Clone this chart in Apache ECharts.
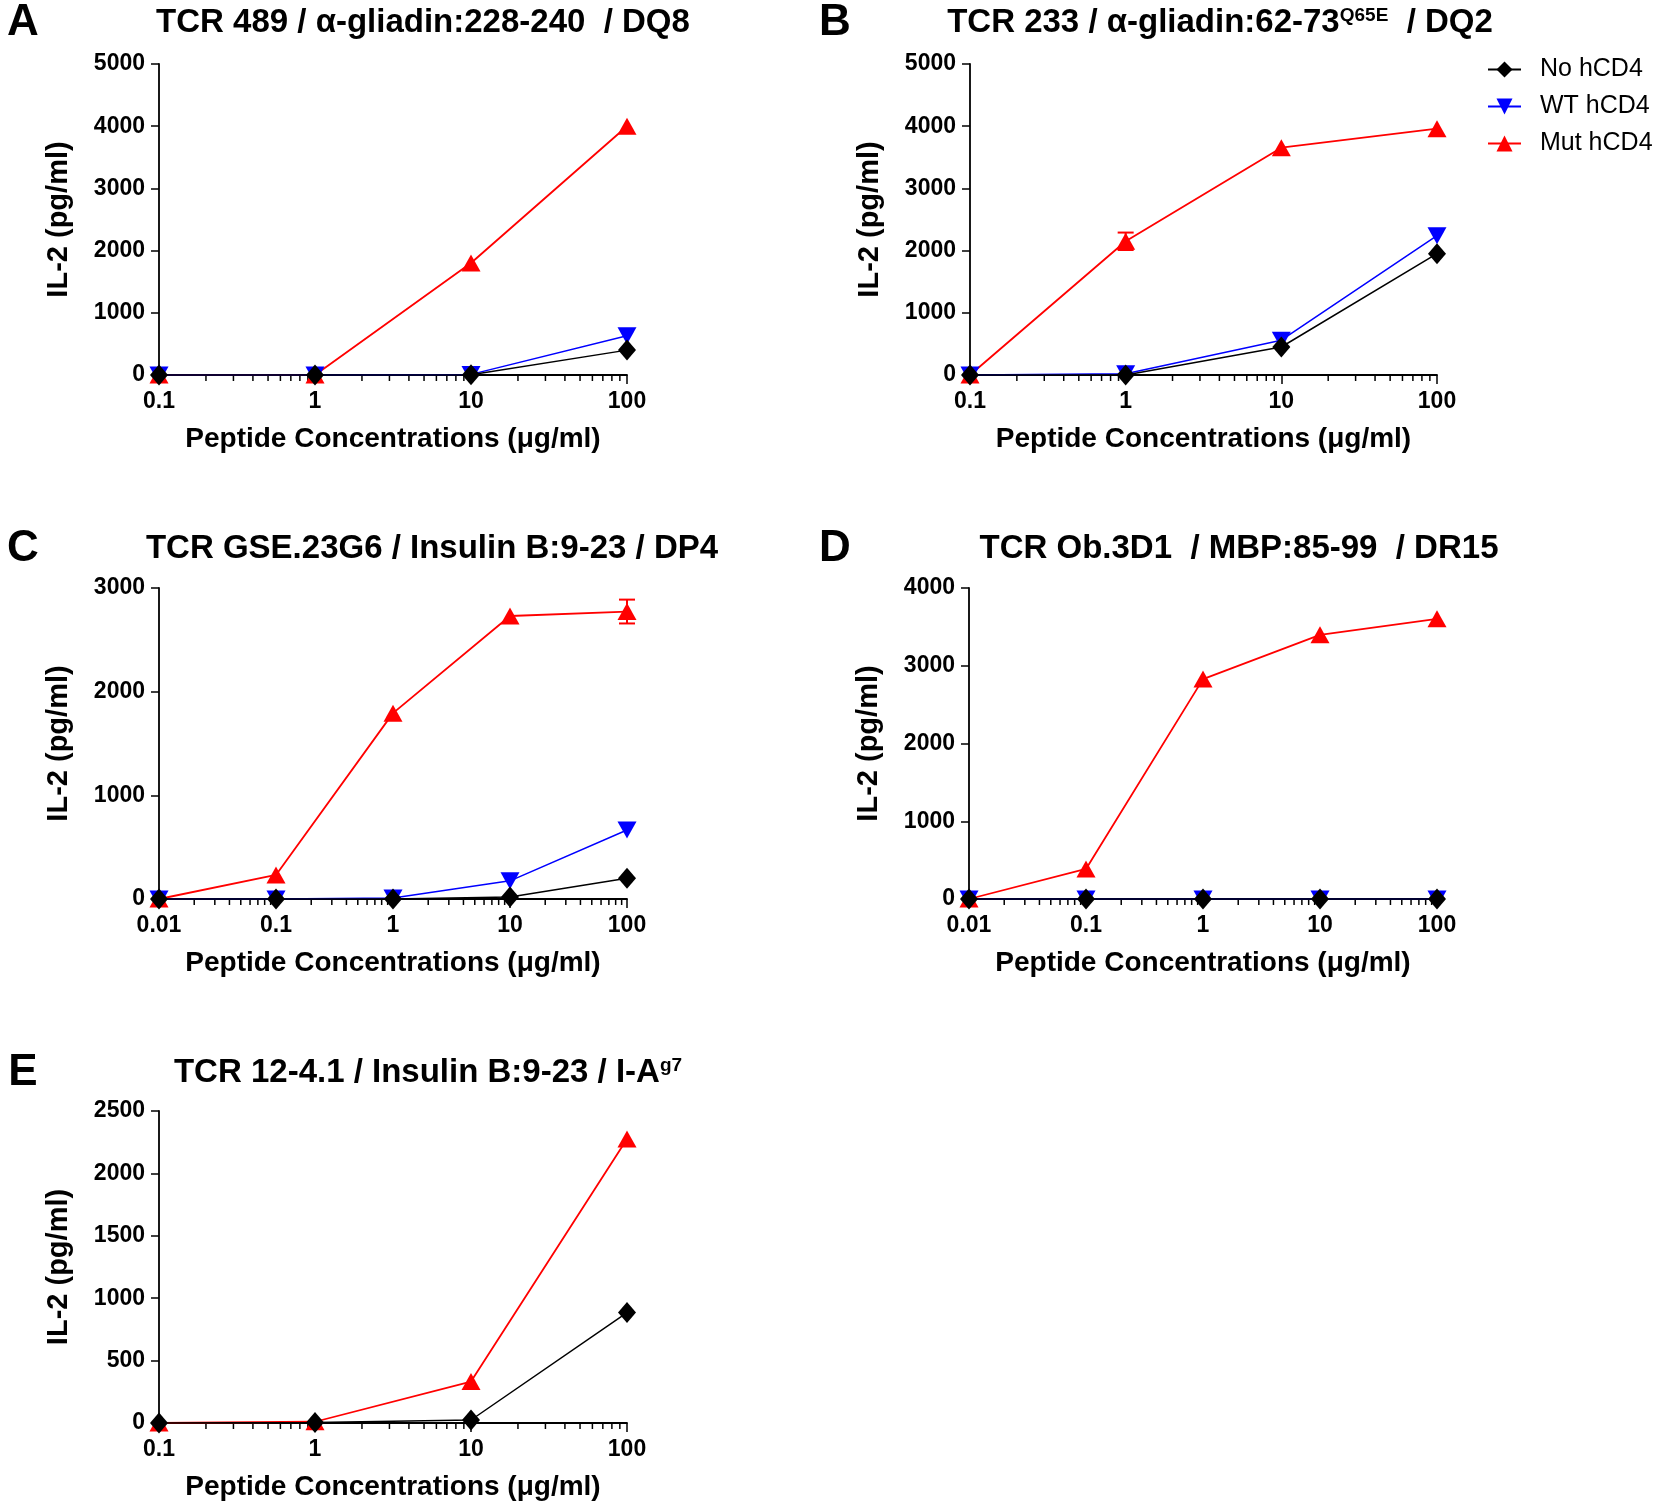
<!DOCTYPE html>
<html lang="en">
<head>
<meta charset="UTF-8">
<title>IL-2 vs peptide concentration</title>
<script src="https://cdn.jsdelivr.net/npm/echarts@6/dist/echarts.min.js"></script>
<style>body{margin:0;background:#fff}</style>
</head>
<body>
<div id="main" style="width:1661px;height:1504px"></div>
<script type="text/javascript">
// peptide concentrations (ug/ml)
var concA = [0.1, 1, 10, 100];
var concC = [0.01, 0.1, 1, 10, 100];

// IL-2 (pg/ml)
var noA = [0, 0, 5, 400];
var wtA = [0, 0, 10, 630];
var mutA = [0, 0, 1800, 4000];

var noB = [0, 0, 450, 1950];
var wtB = [0, 20, 560, 2240];
var mutB = [0, 2150, 3655, 3960];
var errMutB = [0, 140, 0, 0];

var noC = [0, 0, 0, 20, 200];
var wtC = [0, 0, 10, 175, 665];
var mutC = [0, 232, 1793, 2730, 2773];
var errMutC = [0, 0, 0, 0, 115];

var noD = [0, 0, 0, 0, 0];
var wtD = [0, 0, 0, 0, 0];
var mutD = [0, 387, 2828, 3398, 3603];

var noE = [0, 5, 24, 885];
var mutE = [0, 10, 332, 2275];

var panelLetters = ['A', 'B', 'C', 'D', 'E'];
var panelTitles = [
    'TCR 489 / α-gliadin:228-240  / DQ8',
    'TCR 233 / α-gliadin:62-73{sup|Q65E}  / DQ2',
    'TCR GSE.23G6 / Insulin B:9-23 / DP4',
    'TCR Ob.3D1  / MBP:85-99  / DR15',
    'TCR 12-4.1 / Insulin B:9-23 / I-A{sup|g7}'
];
var yMax = [5000, 5000, 3000, 4000, 2500];
var yStep = [1000, 1000, 1000, 1000, 500];
var xMin = [0.1, 0.1, 0.01, 0.01, 0.1];
var xMax = [100, 100, 100, 100, 100];

var FONT = '"Liberation Sans", Arial, sans-serif';

// plot boxes
var grids = [
    {left: 159, top: 64, width: 468, height: 311},
    {left: 970, top: 64, width: 467, height: 311},
    {left: 159, top: 588, width: 468, height: 311},
    {left: 969, top: 588, width: 468, height: 311},
    {left: 159, top: 1111, width: 468, height: 312}
];
var titlePos = [[423, 23], [1220, 23], [432, 549], [1239, 549], [428, 1073]];
var letterPos = [[23, 23], [835, 23], [23, 549], [835, 549], [23, 1073]];

var styles = {
    'No hCD4': {color: '#000000', symbol: 'diamond', size: [18, 21], rot: 0, w: 1.5},
    'WT hCD4': {color: '#0000ff', symbol: 'triangle', size: [19, 17], rot: 180, w: 1.5},
    'Mut hCD4': {color: '#ff0000', symbol: 'triangle', size: [19, 17], rot: 0, w: 1.8}
};

function pairs(xs, ys) {
    return xs.map(function (x, i) { return [x, ys[i]]; });
}

function lineSeries(name, xs, ys, idx) {
    var s = styles[name];
    return {
        name: name, type: 'line', xAxisIndex: idx, yAxisIndex: idx,
        data: pairs(xs, ys), clip: false,
        symbol: s.symbol, symbolSize: s.size, symbolRotate: s.rot,
        itemStyle: {color: s.color},
        lineStyle: {color: s.color, width: s.w},
        z: 3
    };
}

function errorSeries(xs, ys, errs, idx, color) {
    var d = [];
    xs.forEach(function (x, i) {
        if (errs[i] > 0) d.push([x, ys[i] - errs[i], ys[i] + errs[i]]);
    });
    return {
        type: 'custom', xAxisIndex: idx, yAxisIndex: idx, clip: false, z: 2,
        encode: {x: 0, y: [1, 2]},
        data: d,
        renderItem: function (params, api) {
            var top = api.coord([api.value(0), api.value(2)]);
            var bot = api.coord([api.value(0), api.value(1)]);
            var w = 8;
            var st = {stroke: color, lineWidth: 2};
            return {type: 'group', children: [
                {type: 'line', shape: {x1: top[0], y1: top[1], x2: bot[0], y2: bot[1]}, style: st},
                {type: 'line', shape: {x1: top[0] - w, y1: top[1], x2: top[0] + w, y2: top[1]}, style: st},
                {type: 'line', shape: {x1: bot[0] - w, y1: bot[1], x2: bot[0] + w, y2: bot[1]}, style: st}
            ]};
        }
    };
}

// minor log ticks 2..9 within each decade
function minorTicks(lo, hi) {
    var out = [];
    for (var d = lo; d < hi * 0.999; d *= 10) {
        for (var k = 2; k < 10; k++) out.push([+(d * k).toPrecision(3), 0]);
    }
    return out;
}

function minorTickSeries(idx) {
    return {
        type: 'custom', xAxisIndex: idx, yAxisIndex: idx, clip: false, silent: true, z: 1,
        data: minorTicks(xMin[idx], xMax[idx]),
        renderItem: function (params, api) {
            var p = api.coord([api.value(0), 0]);
            return {type: 'line', shape: {x1: p[0], y1: p[1], x2: p[0], y2: p[1] + 6},
                style: {stroke: '#000', lineWidth: 1.5}};
        }
    };
}

var xAxes = [], yAxes = [];
grids.forEach(function (g, i) {
    xAxes.push({
        type: 'log', logBase: 10, gridIndex: i, min: xMin[i], max: xMax[i],
        name: 'Peptide Concentrations (μg/ml)', nameLocation: 'middle', nameGap: 50,
        nameTextStyle: {fontSize: 28, fontWeight: 'bold', color: '#000', fontFamily: FONT},
        axisLine: {show: true, lineStyle: {color: '#000', width: 1.8}},
        axisTick: {show: true, length: 9, lineStyle: {color: '#000', width: 1.5}},
        axisLabel: {fontSize: 23, fontWeight: 'bold', color: '#000', fontFamily: FONT, margin: 15,
            formatter: function (v) { return String(+v.toPrecision(3)); }},
        splitLine: {show: false}
    });
    yAxes.push({
        type: 'value', gridIndex: i, min: 0, max: yMax[i], interval: yStep[i],
        name: 'IL-2 (pg/ml)', nameLocation: 'middle', nameGap: 86,
        nameTextStyle: {fontSize: 29, fontWeight: 'bold', color: '#000', fontFamily: FONT},
        axisLine: {show: true, onZero: false, lineStyle: {color: '#000', width: 1.8}},
        axisTick: {show: true, length: 8, lineStyle: {color: '#000', width: 1.5}},
        axisLabel: {fontSize: 23, fontWeight: 'bold', color: '#000', fontFamily: FONT, margin: 14,
            formatter: function (v) { return String(v); }},
        splitLine: {show: false}
    });
});

var series = [
    lineSeries('Mut hCD4', concA, mutA, 0),
    lineSeries('WT hCD4', concA, wtA, 0),
    lineSeries('No hCD4', concA, noA, 0),

    errorSeries(concA, mutB, errMutB, 1, '#ff0000'),
    lineSeries('Mut hCD4', concA, mutB, 1),
    lineSeries('WT hCD4', concA, wtB, 1),
    lineSeries('No hCD4', concA, noB, 1),

    errorSeries(concC, mutC, errMutC, 2, '#ff0000'),
    lineSeries('Mut hCD4', concC, mutC, 2),
    lineSeries('WT hCD4', concC, wtC, 2),
    lineSeries('No hCD4', concC, noC, 2),

    lineSeries('Mut hCD4', concC, mutD, 3),
    lineSeries('WT hCD4', concC, wtD, 3),
    lineSeries('No hCD4', concC, noD, 3),

    lineSeries('Mut hCD4', concA, mutE, 4),
    lineSeries('No hCD4', concA, noE, 4)
];
for (var i = 0; i < 5; i++) series.push(minorTickSeries(i));

var graphics = [];
panelTitles.forEach(function (t, i) {
    graphics.push({
        type: 'text', x: titlePos[i][0], y: titlePos[i][1],
        style: {
            text: t, fill: '#000', align: 'center', verticalAlign: 'middle',
            fontSize: 33, fontWeight: 'bold', fontFamily: FONT,
            rich: {sup: {fontSize: 19, fontWeight: 'bold', fontFamily: FONT, fill: '#000', verticalAlign: 'top'}}
        }
    });
    graphics.push({
        type: 'text', x: letterPos[i][0], y: letterPos[i][1],
        style: {text: panelLetters[i], fill: '#000', align: 'center', verticalAlign: 'middle',
            fontSize: 44, fontWeight: 'bold', fontFamily: FONT}
    });
});

var myChart = echarts.init(document.getElementById('main'));
var option = {
    backgroundColor: '#ffffff',
    animation: false,
    grid: grids,
    xAxis: xAxes,
    yAxis: yAxes,
    legend: {
        data: ['No hCD4', 'WT hCD4', 'Mut hCD4'],
        orient: 'vertical', left: 1482, top: 52,
        itemWidth: 33, itemHeight: 20, itemGap: 12,
        textStyle: {fontSize: 25, color: '#000', fontFamily: FONT, padding: [0, 0, 0, 14]}
    },
    graphic: graphics,
    series: series
};
myChart.setOption(option);
</script>
</body>
</html>
